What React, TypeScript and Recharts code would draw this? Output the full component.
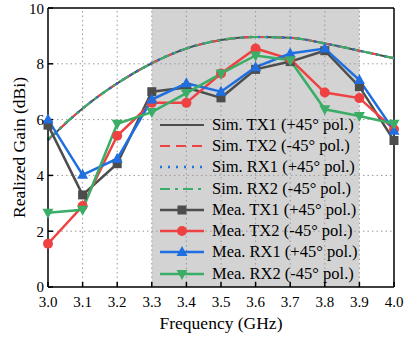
import { Legend, Line, LineChart, ReferenceArea, ReferenceLine, XAxis, YAxis } from "recharts";

const freqs = [3.0, 3.1, 3.2, 3.3, 3.4, 3.5, 3.6, 3.7, 3.8, 3.9, 4.0];

const simTx1 = [5.27, 6.4, 7.3, 8.02, 8.55, 8.85, 8.96, 8.93, 8.73, 8.47, 8.2];
const simTx2 = [5.27, 6.4, 7.3, 8.02, 8.55, 8.85, 8.96, 8.93, 8.73, 8.47, 8.2];
const simRx1 = [5.27, 6.4, 7.3, 8.02, 8.55, 8.85, 8.96, 8.93, 8.73, 8.47, 8.2];
const simRx2 = [5.3, 6.4, 7.3, 8.02, 8.55, 8.85, 8.96, 8.93, 8.73, 8.47, 8.2];

const meaTx1 = [5.8, 3.3, 4.42, 7.0, 7.15, 6.78, 7.8, 8.08, 8.47, 7.18, 5.25];
const meaTx2 = [1.55, 2.9, 5.42, 6.6, 6.6, 7.65, 8.55, 8.17, 6.97, 6.77, 5.65];
const meaRx1 = [6.0, 4.02, 4.6, 6.72, 7.3, 7.0, 7.88, 8.37, 8.55, 7.42, 5.6];
const meaRx2 = [2.66, 2.77, 5.85, 6.27, 6.95, 7.65, 8.3, 8.13, 6.37, 6.13, 5.85];

const xTicks = [3.0, 3.1, 3.2, 3.3, 3.4, 3.5, 3.6, 3.7, 3.8, 3.9, 4.0];
const yTicks = [0, 2, 4, 6, 8, 10];
const band = [3.3, 3.9];

const data = freqs.map((f, i) => ({
  f,
  simTx1: simTx1[i],
  simTx2: simTx2[i],
  simRx1: simRx1[i],
  simRx2: simRx2[i],
  meaTx1: meaTx1[i],
  meaTx2: meaTx2[i],
  meaRx1: meaRx1[i],
  meaRx2: meaRx2[i],
}));

type Marker = "none" | "square" | "circle" | "up" | "down";

type Series = {
  key: string;
  name: string;
  color: string;
  dash?: string;
  width: number;
  marker: Marker;
};

const series: Series[] = [
  { key: "simTx1", name: "Sim. TX1 (+45° pol.)", color: "#4d4d4d", width: 2, marker: "none" },
  { key: "simTx2", name: "Sim. TX2 (-45° pol.)", color: "#ee4242", dash: "10 6", width: 2, marker: "none" },
  { key: "simRx1", name: "Sim. RX1 (+45° pol.)", color: "#1f6fe0", dash: "2 6", width: 2.5, marker: "none" },
  { key: "simRx2", name: "Sim. RX2 (-45° pol.)", color: "#3aad66", dash: "10 5 3 5", width: 2, marker: "none" },
  { key: "meaTx1", name: "Mea. TX1 (+45° pol.)", color: "#4d4d4d", width: 2.5, marker: "square" },
  { key: "meaTx2", name: "Mea. TX2 (-45° pol.)", color: "#ee4242", width: 2.5, marker: "circle" },
  { key: "meaRx1", name: "Mea. RX1 (+45° pol.)", color: "#1f6fe0", width: 2.5, marker: "up" },
  { key: "meaRx2", name: "Mea. RX2 (-45° pol.)", color: "#3aad66", width: 2.5, marker: "down" },
];

const FONT = "Liberation Serif, Times New Roman, serif";

function MarkerShape({ type, cx, cy, color }: { type: Marker; cx: number; cy: number; color: string }) {
  if (type === "square") return <rect x={cx - 4.5} y={cy - 4.5} width={9} height={9} fill={color} />;
  if (type === "circle") return <circle cx={cx} cy={cy} r={5} fill={color} />;
  if (type === "up")
    return <polygon points={`${cx},${cy - 6} ${cx - 5.5},${cy + 4} ${cx + 5.5},${cy + 4}`} fill={color} />;
  if (type === "down")
    return <polygon points={`${cx},${cy + 6} ${cx - 5.5},${cy - 4} ${cx + 5.5},${cy - 4}`} fill={color} />;
  return null;
}

function GainLegend() {
  return (
    <div style={{ fontFamily: FONT, fontSize: 16.5, color: "#000" }}>
      {series.map((s) => (
        <div key={s.key} style={{ display: "flex", alignItems: "center", height: 21.3 }}>
          <svg width={44} height={14} style={{ display: "block" }}>
            <line x1={0} y1={7} x2={44} y2={7} stroke={s.color} strokeWidth={s.width} strokeDasharray={s.dash} />
            <MarkerShape type={s.marker} cx={22} cy={7} color={s.color} />
          </svg>
          <span style={{ marginLeft: 8, whiteSpace: "nowrap" }}>{s.name}</span>
        </div>
      ))}
    </div>
  );
}

function YLabel({ viewBox }: any) {
  const cy = viewBox.y + viewBox.height / 2;
  return (
    <text
      x={19}
      y={cy}
      transform={`rotate(-90 19 ${cy})`}
      textAnchor="middle"
      dominantBaseline="central"
      fill="#000"
      fontSize={17.5}
      fontFamily={FONT}
    >
      Realized Gain (dBi)
    </text>
  );
}

function XLabel({ viewBox }: any) {
  const cx = viewBox.x + viewBox.width / 2;
  return (
    <text x={cx} y={329} textAnchor="middle" fill="#000" fontSize={17.5} fontFamily={FONT}>
      Frequency (GHz)
    </text>
  );
}

export default function App() {
  return (
    <div style={{ position: "absolute", left: 0, top: 0, width: 404, height: 339, background: "#fff" }}>
      <LineChart width={404} height={339} data={data} margin={{ top: 8, right: 10, bottom: 0, left: 0 }}>
        <XAxis
          dataKey="f"
          type="number"
          domain={[3.0, 4.0]}
          ticks={xTicks}
          tickFormatter={(v: number) => v.toFixed(1)}
          height={52}
          tickSize={-5}
          tickMargin={14}
          stroke="#000"
          strokeWidth={1.5}
          tick={{ fill: "#000", fontSize: 15, fontFamily: FONT }}
          label={<XLabel />}
        />
        <YAxis
          type="number"
          domain={[0, 10]}
          ticks={yTicks}
          width={48}
          tickSize={-5}
          tickMargin={9}
          stroke="#000"
          strokeWidth={1.5}
          tick={{ fill: "#000", fontSize: 15, fontFamily: FONT }}
          label={<YLabel />}
        />
        <ReferenceArea x1={band[0]} x2={band[1]} y1={0} y2={10} fill="#d3d3d3" fillOpacity={1} stroke="none" />
        {xTicks.slice(1, -1).map((t) => (
          <ReferenceLine key={`gx${t}`} x={t} stroke="#9a9a9a" strokeDasharray="1.5 3" strokeWidth={1} />
        ))}
        {yTicks.slice(1, -1).map((t) => (
          <ReferenceLine key={`gy${t}`} y={t} stroke="#9a9a9a" strokeDasharray="1.5 3" strokeWidth={1} />
        ))}
        <ReferenceLine y={10} stroke="#000" strokeWidth={1.5} />
        <ReferenceLine x={4.0} stroke="#000" strokeWidth={1.5} />
        {series.map((s) => (
          <Line
            key={s.key}
            dataKey={s.key}
            name={s.name}
            type={s.marker === "none" ? "monotone" : "linear"}
            stroke={s.color}
            strokeWidth={s.width}
            strokeDasharray={s.dash}
            dot={
              s.marker === "none"
                ? false
                : (p: any) => <MarkerShape key={`${s.key}-${p.index}`} type={s.marker} cx={p.cx} cy={p.cy} color={s.color} />
            }
            activeDot={false}
            isAnimationActive={false}
          />
        ))}
        <Legend
          layout="vertical"
          align="center"
          verticalAlign="middle"
          content={() => <GainLegend />}
          wrapperStyle={{ position: "absolute", left: 160, top: 114, width: 234, height: 175 }}
        />
      </LineChart>
    </div>
  );
}
